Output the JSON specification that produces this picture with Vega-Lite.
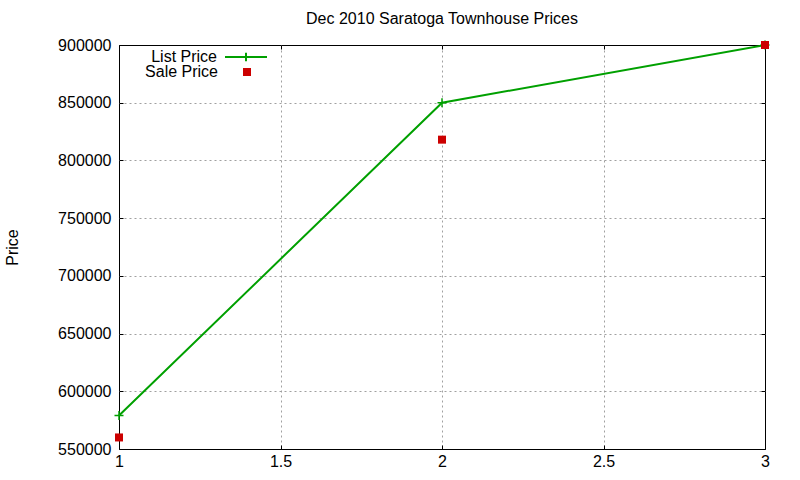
{
  "$schema": "https://vega.github.io/schema/vega-lite/v6.json",
  "width": 646,
  "height": 404,
  "autosize": "none",
  "padding": {"left": 119, "top": 45, "right": 35, "bottom": 31},
  "background": "white",
  "title": {
    "text": "Dec 2010 Saratoga Townhouse Prices",
    "font": "Liberation Sans",
    "fontSize": 16,
    "fontWeight": "normal",
    "anchor": "middle",
    "offset": 8,
    "color": "black"
  },
  "config": {
    "font": "Liberation Sans",
    "view": {"stroke": "black", "strokeWidth": 1},
    "axis": {
      "labelFont": "Liberation Sans",
      "labelFontSize": 16,
      "labelColor": "black",
      "labelFlush": false,
      "domain": false,
      "tickColor": "black",
      "tickSize": -4,
      "gridColor": "#a0a0a0",
      "gridDash": [2, 3],
      "titleFont": "Liberation Sans",
      "titleFontSize": 16,
      "titleFontWeight": "normal",
      "titleColor": "black"
    },
    "legend": {
      "labelFont": "Liberation Sans",
      "labelFontSize": 16,
      "labelColor": "black",
      "orient": "none",
      "padding": 0,
      "labelAlign": "right"
    }
  },
  "data": {
    "values": [
      {"x": 1, "series": "List Price", "price": 579000},
      {"x": 2, "series": "List Price", "price": 850000},
      {"x": 3, "series": "List Price", "price": 900000},
      {"x": 1, "series": "Sale Price", "price": 560000},
      {"x": 2, "series": "Sale Price", "price": 818000},
      {"x": 3, "series": "Sale Price", "price": 900000}
    ]
  },
  "resolve": {"axis": {"x": "independent", "y": "independent"}},
  "layer": [
    {
      "transform": [{"filter": "datum.series == 'List Price'"}],
      "mark": {"type": "line", "strokeWidth": 2},
      "encoding": {
        "x": {
          "field": "x",
          "type": "quantitative",
          "scale": {"domain": [1, 3], "nice": false, "zero": false},
          "axis": {
            "orient": "bottom",
            "values": [1, 1.5, 2, 2.5, 3],
            "format": "~g",
            "title": null,
            "labelPadding": 8,
            "gridOpacity": {"condition": {"test": "datum.value <= 1 || datum.value >= 3", "value": 0}, "value": 1}
          }
        },
        "y": {
          "field": "price",
          "type": "quantitative",
          "scale": {"domain": [550000, 900000], "nice": false, "zero": false},
          "axis": {
            "orient": "left",
            "values": [550000, 600000, 650000, 700000, 750000, 800000, 850000, 900000],
            "format": "d",
            "title": "Price",
            "titlePadding": 37,
            "labelPadding": 12,
            "gridOpacity": {"condition": {"test": "datum.value <= 550000 || datum.value >= 900000", "value": 0}, "value": 1}
          }
        },
        "stroke": {
          "field": "series",
          "type": "nominal",
          "scale": {"domain": ["List Price"], "range": ["#00a000"]},
          "legend": {
            "title": null,
            "symbolType": "M-1,0H1M0,-0.2V0.2",
            "symbolSize": 1764,
            "symbolStrokeWidth": 2,
            "labelOffset": -51,
            "legendX": 105,
            "legendY": -10
          }
        }
      }
    },
    {
      "transform": [{"filter": "datum.series == 'List Price'"}],
      "mark": {"type": "point", "shape": "M-1,0H1M0,-1V1", "size": 81, "filled": false, "color": "#00a000", "strokeWidth": 1.5, "opacity": 1},
      "encoding": {
        "x": {"field": "x", "type": "quantitative", "axis": null},
        "y": {"field": "price", "type": "quantitative", "axis": null}
      }
    },
    {
      "transform": [{"filter": "datum.series == 'Sale Price'"}],
      "mark": {"type": "point", "shape": "square", "size": 64, "filled": true, "opacity": 1},
      "encoding": {
        "x": {
          "field": "x",
          "type": "quantitative",
          "axis": {"orient": "top", "values": [1, 1.5, 2, 2.5, 3], "labels": false, "grid": false, "title": null}
        },
        "y": {
          "field": "price",
          "type": "quantitative",
          "axis": {
            "orient": "right",
            "values": [550000, 600000, 650000, 700000, 750000, 800000, 850000, 900000],
            "labels": false,
            "grid": false,
            "title": null
          }
        },
        "fill": {
          "field": "series",
          "type": "nominal",
          "scale": {"domain": ["Sale Price"], "range": ["#cc0000"]},
          "legend": {
            "title": null,
            "symbolType": "square",
            "symbolSize": 64,
            "symbolStrokeWidth": 0,
            "labelOffset": -37,
            "legendX": 120,
            "legendY": 19
          }
        }
      }
    }
  ]
}
